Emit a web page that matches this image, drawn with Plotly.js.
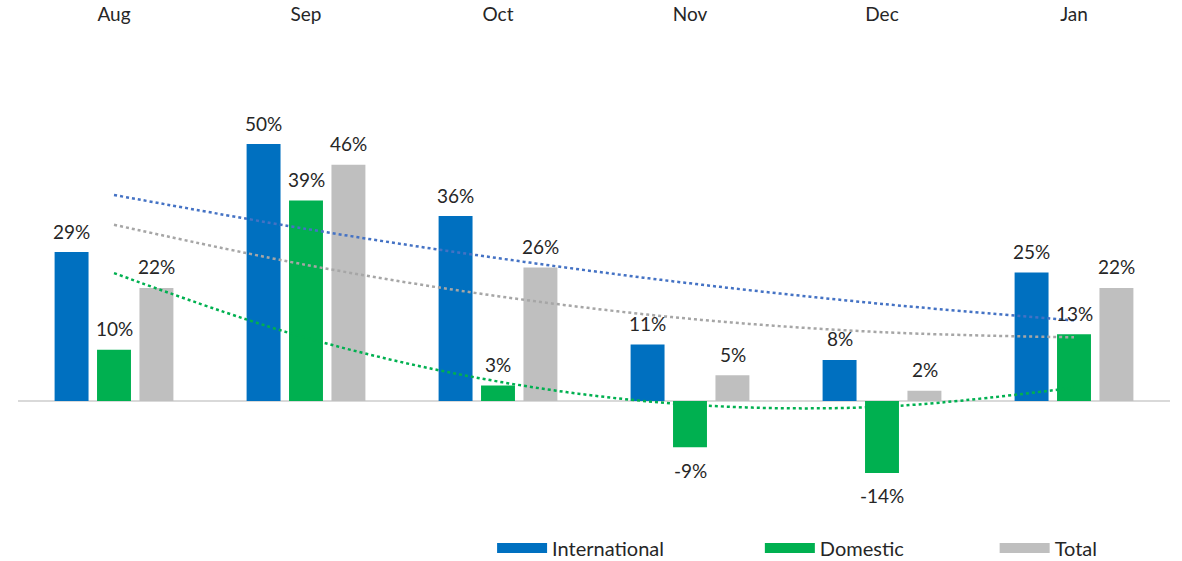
<!DOCTYPE html>
<html><head><meta charset="utf-8">
<script src="https://cdn.plot.ly/plotly-3.0.1.min.js"></script>
<style>html,body{margin:0;padding:0;background:#fff}#chart{width:1182px;height:561px}</style>
</head><body><div id="chart"></div>
<script>
const months = ['Aug','Sep','Oct','Nov','Dec','Jan'];
const international = [29, 50, 36, 11, 8, 25];
const domestic = [10, 39, 3, -9, -14, 13];
const total = [22, 46, 26, 5, 2, 22];
// polynomial (order 2) trendline values as read at each month
const intlTrend = [40.1, 33.5, 27.8, 22.9, 18.9, 15.7];
const domTrend = [24.9, 12.3, 3.8, -0.7, -1.1, 2.6];
const totalTrend = [34.3, 26.5, 20.4, 16.0, 13.4, 12.4];

const cBlue = '#0070C0', cGreen = '#00B050', cGrey = '#BFBFBF';
const font = 'Lato, "Open Sans", sans-serif';
const txt = '#262626';
const fs = 19;

function bar(name, vals, color) {
  return {type:'bar', name:name, x:months, y:vals, marker:{color:color},
          showlegend:false, hoverinfo:'skip', cliponaxis:false};
}
function trend(vals, color) {
  return {type:'scatter', mode:'lines', x:months, y:vals, showlegend:false,
          line:{color:color, width:2.5, dash:'dot', shape:'spline'}, hoverinfo:'skip'};
}
function legendEntry(name, color, legendId) {
  return {type:'scatter', mode:'lines', x:[null], y:[null], name:name, legend:legendId,
          line:{color:color, width:13}, showlegend:true, hoverinfo:'skip'};
}

const traces = [
  bar('International', international, cBlue),
  bar('Domestic', domestic, cGreen),
  bar('Total', total, cGrey),
  trend(intlTrend, '#4472C4'),
  trend(totalTrend, '#A6A6A6'),
  trend(domTrend, '#00B050'),
  legendEntry('International', cBlue, 'legend'),
  legendEntry('Domestic', cGreen, 'legend2'),
  legendEntry('Total', cGrey, 'legend3')
];

const annotations = [];
const series = [[international, -42.5], [domestic, 0], [total, 42.5]];
series.forEach(([vals, dx]) => {
  vals.forEach((v, i) => {
    annotations.push({x: months[i], y: v, xref:'x', yref:'y', text: v + '%', showarrow:false,
      xshift: dx, yshift: v >= 0 ? 21 : -23, yanchor:'middle',
      font:{family:font, size:fs, color:txt}});
  });
});

const legBase = {orientation:'h', yanchor:'middle', xanchor:'left', yref:'container', y:1 - 548/561,
  font:{family:font, size:20, color:txt}, itemwidth:50, bgcolor:'rgba(0,0,0,0)'};

const layout = {
  width:1182, height:561,
  margin:{l:17.5, r:11.5, t:30, b:41, autoexpand:false},
  paper_bgcolor:'#fff', plot_bgcolor:'#fff',
  barmode:'group', bargap:0.337, bargroupgap:0.2,
  font:{family:font, size:fs, color:txt},
  xaxis:{type:'category', side:'top', showgrid:false, showline:false, ticks:'', automargin:false,
         ticklabelstandoff:4, tickfont:{family:font, size:fs, color:txt}, fixedrange:true},
  yaxis:{range:[-23.15, 72.2], showgrid:false, showticklabels:false, ticks:'', automargin:false,
         zeroline:true, zerolinecolor:'#D9D9D9', zerolinewidth:2, fixedrange:true},
  annotations: annotations,
  legend: Object.assign({}, legBase, {x:(492-17.5)/1153}),
  legend2: Object.assign({}, legBase, {x:(760-17.5)/1153}),
  legend3: Object.assign({}, legBase, {x:(995-17.5)/1153}),
  showlegend:true
};

Plotly.newPlot('chart', traces, layout, {displayModeBar:false, staticPlot:true});
</script></body></html>
